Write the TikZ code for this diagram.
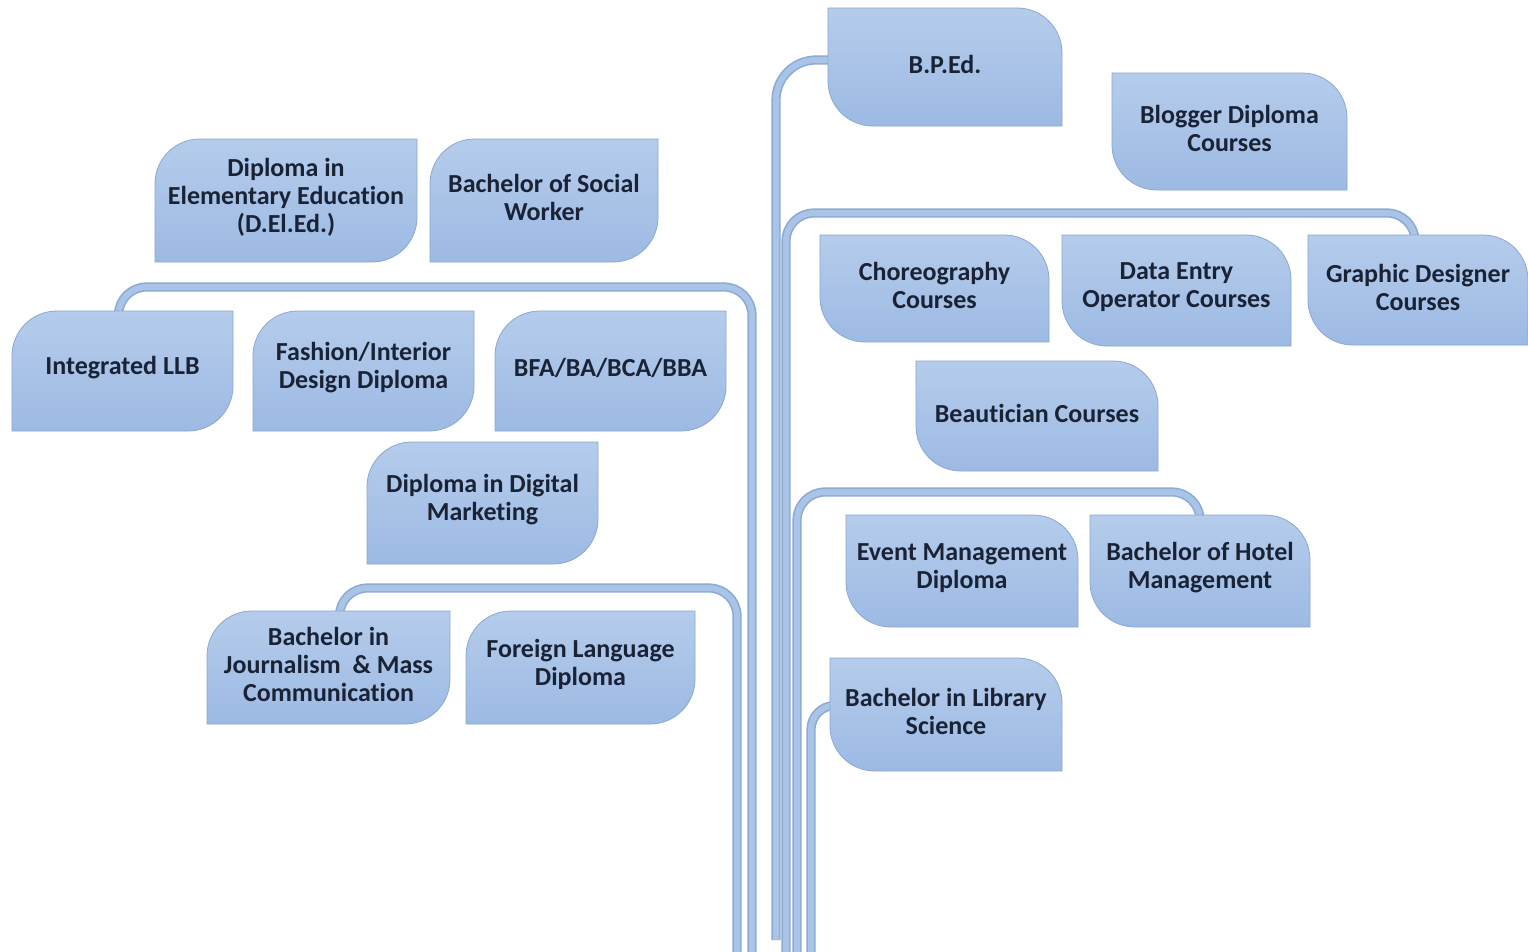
\documentclass[tikz,border=0pt]{standalone}
\usepackage{fontspec}
\setmainfont{Carlito}[Ligatures=NoCommon]
\pgfdeclarelayer{paper}
\pgfdeclarelayer{pipes}
\pgfdeclarelayer{boxes}
\pgfsetlayers{paper,pipes,boxes,main}
\definecolor{boxtop}{HTML}{B5CCEB}
\definecolor{boxbot}{HTML}{9DBAE4}
\definecolor{boxedge}{HTML}{8AA8D2}
\definecolor{pipeedge}{HTML}{8CAAD4}
\definecolor{pipefill}{HTML}{AAC4E8}
\definecolor{ink}{HTML}{1A2336}
\tikzset{
  boxtext/.style={inner sep=0pt, align=center, text=ink,
    font=\fontsize{26}{28}\selectfont\bfseries},
  leaffill/.style={top color=boxtop, bottom color=boxbot, draw=boxedge, line width=0.8pt},
  pipe/.style={draw=pipeedge, line width=1.6pt, double=pipefill, double distance=6pt,
    rounded corners=28pt}
}
% #1 name, #2 L/R, #3 x1, #4 y1, #5 x2, #6 y2, #7 text
\newcommand\leafbox[7]{%
  \pgfmathsetmacro\lcx{(#3+#5)/2}\pgfmathsetmacro\lcy{(#4+#6)/2-3}%
  \pgfmathsetmacro\lw{#5-#3}\pgfmathsetmacro\lh{#6-#4}%
  \node[boxtext, minimum width=\lw pt, minimum height=\lh pt] (#1) at (\lcx,\lcy) {#7};
  \begin{pgfonlayer}{boxes}
  \if#2L
  \path[leaffill] (#3,#6) -- (#3,{#4+45}) .. controls (#3,{#4+20}) and ({#3+20},#4) .. ({#3+45},#4)
     -- (#5,#4) -- (#5,{#6-45}) .. controls (#5,{#6-20}) and ({#5-20},#6) .. ({#5-45},#6) -- cycle;
  \else
  \path[leaffill] (#3,#4) -- ({#5-45},#4) .. controls ({#5-20},#4) and (#5,{#4+20}) .. (#5,{#4+45})
     -- (#5,#6) -- ({#3+45},#6) .. controls ({#3+20},#6) and (#3,{#6-20}) .. (#3,{#6-45}) -- cycle;
  \fi
  \end{pgfonlayer}}
\begin{document}
\begin{tikzpicture}[x=1pt,y=-1pt]
\useasboundingbox (0,0) rectangle (1528,951);
\begin{pgfonlayer}{paper}
\fill[white] (0,0) rectangle (1528,951);
\end{pgfonlayer}
% left boxes
\leafbox{deled}{L}{155}{139}{417}{262}{Diploma in\\Elementary Education\\(D.El.Ed.)}
\leafbox{bsw}{L}{430}{139}{658}{262}{Bachelor of Social\\Worker}
\leafbox{llb}{L}{12}{311}{233}{431}{Integrated LLB}
\leafbox{fashion}{L}{253}{311}{474}{431}{Fashion/Interior\\Design Diploma}
\leafbox{bfa}{L}{495}{311}{726}{431}{BFA/BA/BCA/BBA}
\leafbox{digital}{L}{367}{442}{598}{564}{Diploma in Digital\\Marketing}
\leafbox{journ}{L}{207}{611}{450}{724}{Bachelor in\\Journalism\ \ \& Mass\\Communication}
\leafbox{foreign}{L}{466}{611}{695}{724}{Foreign Language\\Diploma}
% right boxes
\leafbox{bped}{R}{828}{8}{1062}{126}{B.P.Ed.}
\leafbox{blogger}{R}{1112}{73}{1347}{190}{Blogger Diploma\\Courses}
\leafbox{choreo}{R}{820}{235}{1049}{342}{Choreography\\Courses}
\leafbox{dataentry}{R}{1062}{235}{1291}{346}{Data Entry\\Operator Courses}
\leafbox{graphic}{R}{1308}{235}{1528}{345}{Graphic Designer\\Courses}
\leafbox{beautician}{R}{916}{361}{1158}{471}{Beautician Courses}
\leafbox{event}{R}{846}{515}{1078}{627}{Event Management\\Diploma}
\leafbox{hotel}{R}{1090}{515}{1310}{627}{Bachelor of Hotel\\Management}
\leafbox{library}{R}{830}{658}{1062}{771}{Bachelor in Library\\Science}
% pipes
\coordinate (endA) at (737,958);
\coordinate (jA) at (737,588);
\coordinate (endB) at (752,958);
\coordinate (jB) at (752,287);
\coordinate (endC) at (776,940);
\coordinate (endD) at (786,958);
\coordinate (jD) at (786,213);
\coordinate (endE) at (797,958);
\coordinate (jE) at (797,492);
\coordinate (endF) at (811,958);
\begin{pgfonlayer}{pipes}
\draw[pipe] (endA) -- (jA) -| ([xshift=11pt,yshift=-9pt]journ.north);
\draw[pipe] (endB) -- (jB) -| ([xshift=-4pt,yshift=-9pt]llb.north);
\draw[pipe, rounded corners=40pt] (endC) |- ([xshift=6pt,yshift=4pt]bped.west);
\draw[pipe] (endD) -- (jD) -| ([xshift=-3pt,yshift=-9pt]graphic.north);
\draw[pipe] (endE) -- (jE) -| ([yshift=-9pt]hotel.north);
\draw[pipe, rounded corners=24pt] (endF) |- ([xshift=6pt,yshift=6pt]library.west);
\end{pgfonlayer}
\end{tikzpicture}
\end{document}
